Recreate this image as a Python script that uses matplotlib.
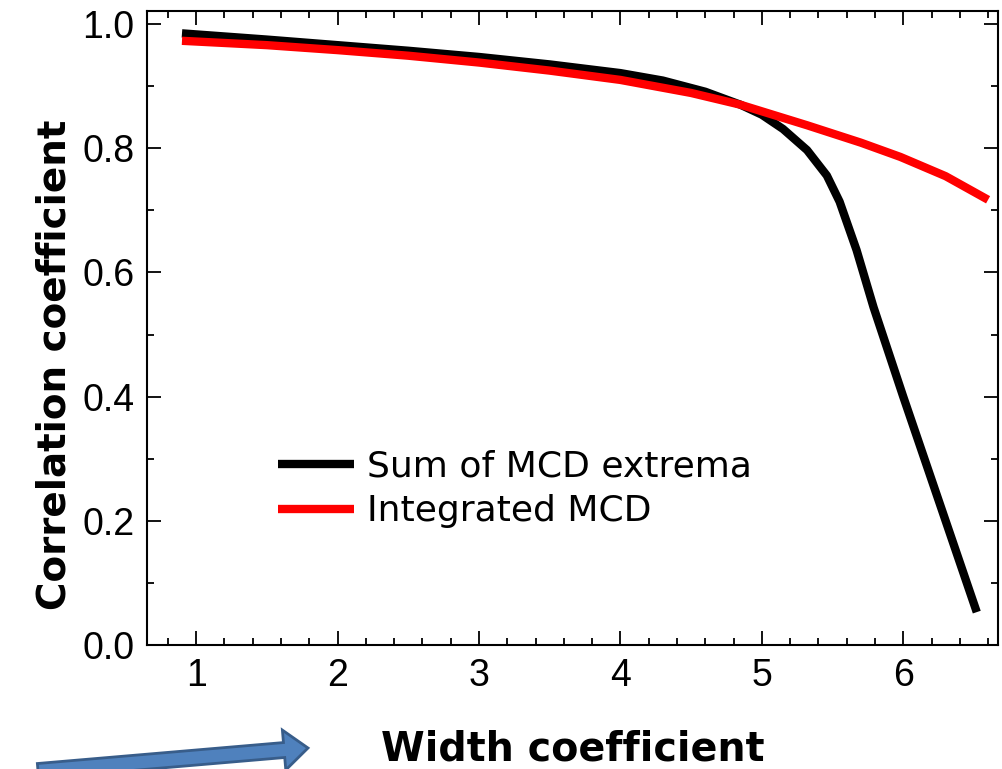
import matplotlib
matplotlib.use('Agg')
import matplotlib.pyplot as plt
from matplotlib.patches import FancyArrow
from matplotlib.transforms import IdentityTransform
from matplotlib.ticker import MultipleLocator, FormatStrFormatter

# Sum of MCD extrema (black)
sum_x = [0.90, 1.5, 2.0, 2.5, 3.0, 3.5, 4.0, 4.3, 4.6, 4.85, 5.0, 5.15, 5.32,
         5.46, 5.55, 5.67, 5.79, 6.0, 6.52]
sum_y = [0.985, 0.975, 0.966, 0.957, 0.947, 0.935, 0.921, 0.909, 0.891, 0.870,
         0.854, 0.831, 0.797, 0.756, 0.714, 0.636, 0.544, 0.400, 0.053]

# Integrated MCD (red)
int_x = [0.90, 1.5, 2.0, 2.5, 3.0, 3.5, 4.0, 4.5, 4.85, 5.32, 5.7, 5.98, 6.30, 6.60]
int_y = [0.973, 0.966, 0.958, 0.949, 0.938, 0.925, 0.910, 0.889, 0.870,
         0.837, 0.809, 0.786, 0.755, 0.717]

XLABEL = 'Width coefficient'
YLABEL = 'Correlation coefficient'
LEGEND = ['Sum of MCD extrema', 'Integrated MCD']

plt.rcParams['font.family'] = ['Liberation Sans', 'DejaVu Sans']
WIDE = ['DejaVu Sans']   # reference text is drawn wider than Arial

fig = plt.figure(figsize=(10.03, 7.69), dpi=100)
ax = fig.add_axes([0.1466, 0.1612, 0.8484, 0.8245])

ax.plot(sum_x, sum_y, color='black', lw=6, label=LEGEND[0], solid_capstyle='butt')
ax.plot(int_x, int_y, color='#ff0000', lw=6, label=LEGEND[1], solid_capstyle='butt')

ax.set_xlim(0.653, 6.67)
ax.set_ylim(0.0, 1.021)
ax.xaxis.set_major_locator(MultipleLocator(1))
ax.xaxis.set_minor_locator(MultipleLocator(0.2))
ax.yaxis.set_major_locator(MultipleLocator(0.2))
ax.yaxis.set_minor_locator(MultipleLocator(0.1))
ax.yaxis.set_major_formatter(FormatStrFormatter('%.1f'))

ax.tick_params(which='both', direction='in', top=True, right=True, width=1.3)
ax.tick_params(which='major', length=10, labelsize=27, pad=9)
ax.tick_params(which='minor', length=5)
for s in ax.spines.values():
    s.set_linewidth(1.5)

ax.set_xlabel(XLABEL, fontsize=28.5, fontweight='bold', family=WIDE, labelpad=26)
ax.set_ylabel(YLABEL, fontsize=28, fontweight='bold', family=WIDE)
ax.yaxis.set_label_coords(-0.087, 0.442)

ax.legend(loc='center left', bbox_to_anchor=(0.154, 0.246), frameon=False,
          prop={'family': WIDE, 'size': 26}, handlelength=2.1,
          handletextpad=0.36, labelspacing=0.3, borderaxespad=0, borderpad=0)

# decorative blue arrow at bottom left
arrow = FancyArrow(38, -2, 270, 23, width=15, head_width=40, head_length=24,
                   length_includes_head=True, facecolor='#4F81BD',
                   edgecolor='#385D8A', lw=2, transform=IdentityTransform())
fig.add_artist(arrow)

fig.savefig('out.png', dpi=100)
